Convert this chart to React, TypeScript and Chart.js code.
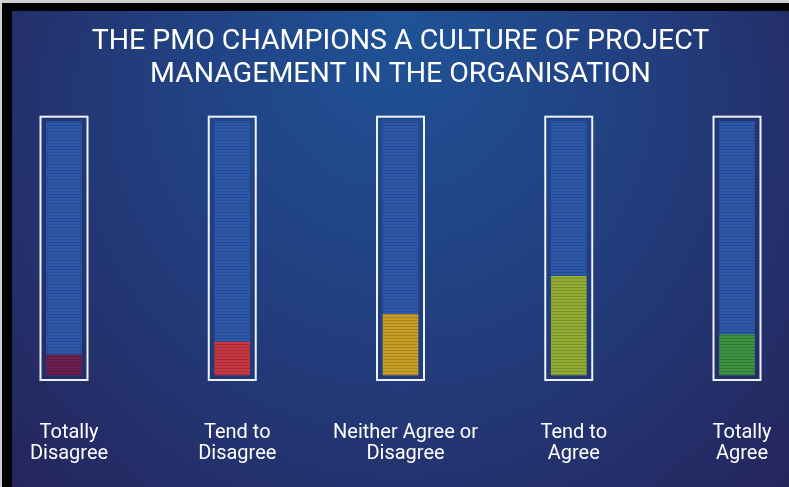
import React, { useEffect, useRef } from "react";
import { Chart, registerables } from "chart.js";

Chart.register(...registerables);

const categories: string[][] = [
  ["Totally", "Disagree"],
  ["Tend to", "Disagree"],
  ["Neither Agree or", "Disagree"],
  ["Tend to", "Agree"],
  ["Totally", "Agree"],
];
const values: number[] = [8, 13, 24, 39, 16];
const trackValues: number[] = [100, 100, 100, 100, 100];
const titleLines: string[] = [
  "THE PMO CHAMPIONS A CULTURE OF PROJECT",
  "MANAGEMENT IN THE ORGANISATION",
];
const fillColors: string[] = ["#6e1e4e", "#c9363e", "#c89e22", "#93ab2e", "#3d923b"];
const stripeColors: string[] = ["#581a46", "#a52d40", "#a8852a", "#7a9233", "#2f7b3f"];
const trackColor = "#2d58a9";
const trackStripe = "#254b93";

function stripePattern(ctx: CanvasRenderingContext2D, base: string, stripe: string) {
  const c = document.createElement("canvas");
  c.width = 4;
  c.height = 3;
  const g = c.getContext("2d")!;
  g.fillStyle = base;
  g.fillRect(0, 0, 4, 3);
  g.fillStyle = stripe;
  g.fillRect(0, 2, 4, 1);
  return ctx.createPattern(c, "repeat")!;
}

const backgroundPlugin = {
  id: "bgFrame",
  beforeDraw(chart: any) {
    const { ctx, width, height } = chart;
    ctx.save();
    ctx.fillStyle = "#cfd0d2";
    ctx.fillRect(0, 0, width, height);
    ctx.fillStyle = "#000000";
    ctx.fillRect(2, 3, width - 2, height - 3);
    const grad = ctx.createRadialGradient(400, 20, 10, 400, 160, 520);
    grad.addColorStop(0, "#1f5296");
    grad.addColorStop(0.45, "#223f80");
    grad.addColorStop(1, "#25245a");
    ctx.fillStyle = grad;
    ctx.fillRect(12, 11, width - 12, height - 11);
    ctx.restore();
  },
};

const outlinePlugin = {
  id: "outline",
  afterDatasetsDraw(chart: any) {
    const meta = chart.getDatasetMeta(1);
    const { ctx } = chart;
    ctx.save();
    ctx.strokeStyle = "#eef2f8";
    ctx.lineWidth = 2;
    meta.data.forEach((el: any) => {
      const { x, y, base, width } = el.getProps(["x", "y", "base", "width"], true);
      const left = x - width / 2 - 6;
      const right = x + width / 2 + 6;
      const top = Math.min(y, base) - 5;
      const bottom = Math.max(y, base) + 5;
      ctx.strokeRect(left, top, right - left, bottom - top);
    });
    ctx.restore();
  },
};

export default function App() {
  const ref = useRef<HTMLCanvasElement>(null);
  useEffect(() => {
    const canvas = ref.current!;
    const ctx = canvas.getContext("2d")!;
    const fills = fillColors.map((c, i) => stripePattern(ctx, c, stripeColors[i]));
    const trackPat = stripePattern(ctx, trackColor, trackStripe);
    const chart = new Chart(canvas, {
      type: "bar",
      data: {
        labels: categories,
        datasets: [
          {
            label: "Share",
            data: values,
            backgroundColor: fills,
            barThickness: 35,
            grouped: false,
            order: 0,
            clip: false,
          } as any,
          {
            label: "Track",
            data: trackValues,
            backgroundColor: trackPat,
            barThickness: 35,
            grouped: false,
            order: 1,
            clip: false,
          } as any,
        ],
      },
      options: {
        responsive: false,
        animation: false,
        devicePixelRatio: 1,
        layout: { padding: { top: 12, left: 64, right: 52, bottom: 0 } },
        plugins: {
          legend: { display: false },
          tooltip: { enabled: false },
          title: {
            display: true,
            text: titleLines,
            color: "#ffffff",
            font: { family: "Roboto", size: 28.5, weight: "normal", lineHeight: 1.17 },
            padding: { top: 13, bottom: 30 },
          },
        },
        scales: {
          x: {
            offset: false,
            grid: { display: false, drawTicks: false },
            border: { display: false },
            afterFit: (scale: any) => {
              scale.paddingLeft = 0;
              scale.paddingRight = 0;
              scale.height = 112;
            },
            ticks: {
              color: "#ffffff",
              font: { family: "Roboto", size: 20, lineHeight: 1.05 },
              padding: 47,
              labelOffset: 5,
              maxRotation: 0,
              autoSkip: false,
            },
          },
          y: {
            display: false,
            min: 0,
            max: 100,
          },
        },
      },
      plugins: [backgroundPlugin, outlinePlugin],
    });
    return () => chart.destroy();
  }, []);
  return (
    <div style={{ position: "absolute", left: 0, top: 0, width: 789, height: 487 }}>
      <canvas ref={ref} width={789} height={487} style={{ display: "block" }} />
    </div>
  );
}
